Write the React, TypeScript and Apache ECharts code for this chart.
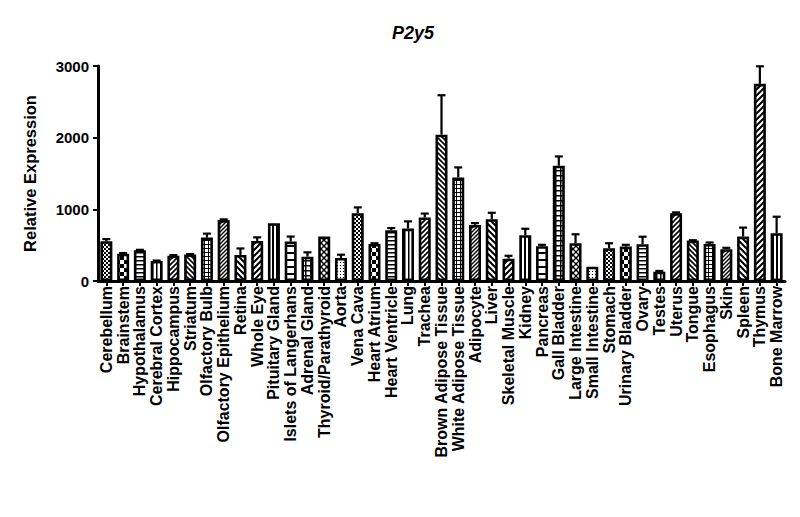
import React, { useEffect, useRef } from "react";
import * as echarts from "echarts";

const categories = [
  "Cerebellum", "Brainstem", "Hypothalamus", "Cerebral Cortex", "Hippocampus",
  "Striatum", "Olfactory Bulb", "Olfactory Epithelium", "Retina", "Whole Eye",
  "Pituitary Gland", "Islets of Langerhans", "Adrenal Gland", "Thyroid/Parathyroid", "Aorta",
  "Vena Cava", "Heart Atrium", "Heart Ventricle", "Lung", "Trachea",
  "Brown Adipose Tissue", "White Adipose Tissue", "Adipocyte", "Liver", "Skeletal Muscle",
  "Kidney", "Pancreas", "Gall Bladder", "Large Intestine", "Small Intestine",
  "Stomach", "Urinary Bladder", "Ovary", "Testes", "Uterus",
  "Tongue", "Esophagus", "Skin", "Spleen", "Thymus", "Bone Marrow",
];

const values = [
  555, 380, 430, 280, 352,
  370, 606, 850, 364, 559,
  807, 550, 340, 620, 322,
  947, 517, 709, 732, 886,
  2042, 1445, 783, 862, 312,
  639, 485, 1608, 527, 200,
  457, 480, 513, 130, 947,
  564, 517, 443, 620, 2751, 667,
];

const errors = [
  30, 10, 5, 5, 10,
  5, 55, 10, 90, 50,
  0, 70, 60, 0, 45,
  80, 10, 30, 100, 55,
  550, 140, 25, 90, 40,
  90, 20, 130, 125, 0,
  70, 25, 105, 10, 10,
  5, 20, 20, 125, 245, 230,
];

const yTicks = [0, 1000, 2000, 3000];
const title = "P2y5";
const yName = "Relative Expression";

const patternCycle = [
  "checkS", "checkL", "hline", "vline", "diagF",
  "diagB", "grid", "diagF2", "diagB2", "diagF3",
  "vline2", "hline2", "grid2", "diamond", "dots",
];

function makeTile(kind: string): HTMLCanvasElement {
  const sizes: Record<string, number> = {
    checkS: 4, checkL: 8, hline: 4, vline: 4, diagF: 5, diagB: 5, grid: 4,
    diagF2: 4, diagB2: 6, diagF3: 6, vline2: 4, hline2: 7, grid2: 5, diamond: 6, dots: 3,
  };
  const s = sizes[kind] || 4;
  const c = document.createElement("canvas");
  c.width = s;
  c.height = s;
  const ctx = c.getContext("2d")!;
  ctx.fillStyle = "#fff";
  ctx.fillRect(0, 0, s, s);
  ctx.fillStyle = "#000";
  ctx.strokeStyle = "#000";
  const diag = (fwd: boolean, w: number) => {
    ctx.lineWidth = w;
    ctx.beginPath();
    const segs = [
      [-1, s + 1, s + 1, -1],
      [-1, 1, 1, -1],
      [s - 1, s + 1, s + 1, s - 1],
    ];
    for (const [x1, y1, x2, y2] of segs) {
      if (fwd) {
        ctx.moveTo(x1, y1);
        ctx.lineTo(x2, y2);
      } else {
        ctx.moveTo(s - x1, y1);
        ctx.lineTo(s - x2, y2);
      }
    }
    ctx.stroke();
  };
  switch (kind) {
    case "checkS":
      ctx.fillRect(0, 0, 2, 2);
      ctx.fillRect(2, 2, 2, 2);
      break;
    case "checkL":
      ctx.fillRect(0, 0, 4, 4);
      ctx.fillRect(4, 4, 4, 4);
      break;
    case "hline":
      ctx.fillRect(0, 0, s, 1.5);
      break;
    case "hline2":
      ctx.fillRect(0, 0, s, 2);
      break;
    case "vline":
      ctx.fillRect(0, 0, 1.5, s);
      break;
    case "vline2":
      ctx.fillRect(0, 0, 2, s);
      break;
    case "grid":
      ctx.fillRect(0, 0, s, 1);
      ctx.fillRect(0, 0, 1, s);
      break;
    case "grid2":
      ctx.fillRect(0, 0, s, 1.5);
      ctx.fillRect(0, 0, 1.5, s);
      break;
    case "diagF":
      diag(true, 1.6);
      break;
    case "diagF2":
      diag(true, 1.4);
      break;
    case "diagF3":
      diag(true, 2);
      break;
    case "diagB":
      diag(false, 1.6);
      break;
    case "diagB2":
      diag(false, 2);
      break;
    case "diamond":
      diag(true, 1.4);
      diag(false, 1.4);
      break;
    case "dots":
      ctx.fillRect(1, 1, 1, 1);
      break;
  }
  return c;
}

export default function App() {
  const ref = useRef<HTMLDivElement>(null);
  useEffect(() => {
    if (!ref.current) return;
    const chart = echarts.init(ref.current, undefined, { renderer: "svg" });
    const tiles: Record<string, HTMLCanvasElement> = {};
    for (const k of patternCycle) tiles[k] = makeTile(k);

    const barData = values.map((v, i) => {
      const t = tiles[patternCycle[i % patternCycle.length]];
      return {
        value: v,
        itemStyle: {
          color: { image: t, repeat: "repeat", imageWidth: t.width, imageHeight: t.height } as any,
        },
      };
    });

    const errData = values.map((v, i) => [i, v, errors[i]]);
    const font = "Liberation Sans, Arial, sans-serif";

    chart.setOption({
      animation: false,
      title: {
        text: title,
        left: 387,
        top: 19,
        textStyle: {
          fontSize: 18,
          fontWeight: "bold",
          fontStyle: "italic",
          fontFamily: font,
          color: "#000",
        },
      },
      grid: { left: 98, right: 15, top: 66, bottom: 236 },
      xAxis: {
        type: "category",
        data: categories,
        axisLine: { lineStyle: { color: "#000", width: 3 } },
        axisTick: { show: true, alignWithLabel: true, length: 5, lineStyle: { color: "#000", width: 2 } },
        axisLabel: {
          interval: 0,
          rotate: 90,
          margin: 5,
          color: "#000",
          fontSize: 16,
          fontWeight: "bold",
          fontFamily: font,
        },
      },
      yAxis: {
        type: "value",
        min: yTicks[0],
        max: yTicks[yTicks.length - 1],
        interval: 1000,
        name: yName,
        nameLocation: "middle",
        nameGap: 60,
        nameTextStyle: {
          fontSize: 16.5,
          fontWeight: "bold",
          fontFamily: font,
          color: "#000",
        },
        splitLine: { show: false },
        axisLine: { show: true, lineStyle: { color: "#000", width: 3 } },
        axisTick: { show: true, length: 5, lineStyle: { color: "#000", width: 2 } },
        axisLabel: {
          margin: 9,
          color: "#000",
          fontSize: 15,
          fontWeight: "bold",
          fontFamily: font,
          formatter: (v: number) => String(v),
        },
      },
      series: [
        {
          type: "bar",
          data: barData,
          barWidth: 12,
          itemStyle: { borderColor: "#000", borderWidth: 2.6 },
          z: 2,
        },
        {
          type: "custom",
          data: errData,
          z: 3,
          renderItem: (params: any, api: any) => {
            const i = api.value(0);
            const v = api.value(1);
            const e = api.value(2);
            if (!e) return { type: "group", children: [] };
            const p0 = api.coord([i, v]);
            const p1 = api.coord([i, v + e]);
            const style = { stroke: "#000", lineWidth: 2.2 };
            return {
              type: "group",
              children: [
                { type: "line", shape: { x1: p0[0], y1: p0[1], x2: p1[0], y2: p1[1] }, style },
                { type: "line", shape: { x1: p1[0] - 4, y1: p1[1], x2: p1[0] + 4, y2: p1[1] }, style },
              ],
            };
          },
        },
      ],
    });
    return () => chart.dispose();
  }, []);
  return <div ref={ref} style={{ width: 800, height: 517, position: "absolute", left: 0, top: 0 }} />;
}
